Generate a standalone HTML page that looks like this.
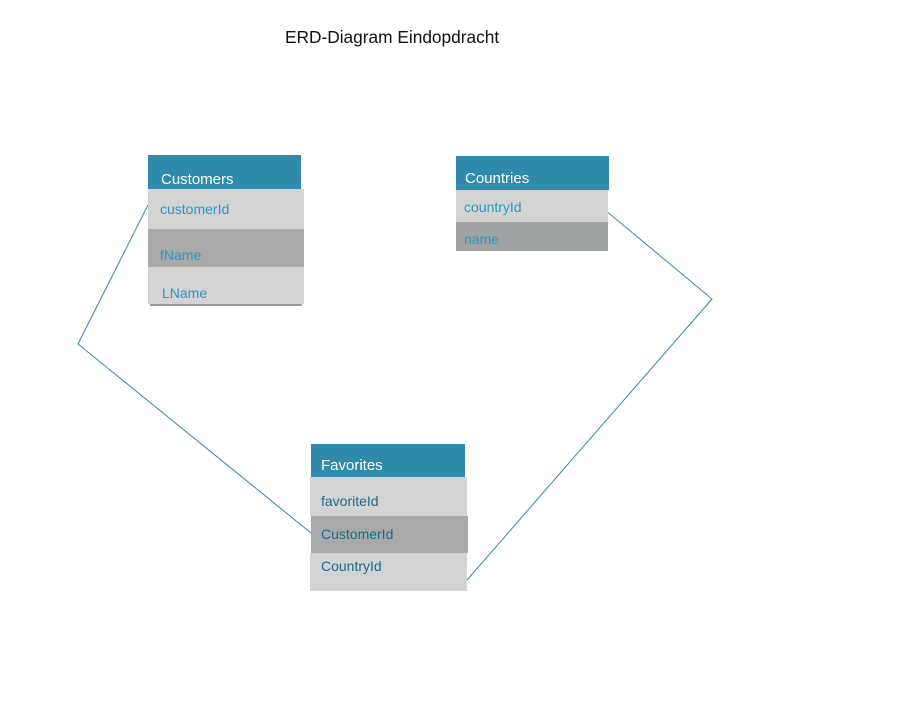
<!DOCTYPE html>
<html><head><meta charset="utf-8"><style>
body{margin:0;width:912px;height:712px;background:#fff;position:relative;overflow:hidden;font-family:"Liberation Sans","DejaVu Sans",sans-serif}
.b{position:absolute}
.h{background:#308aab;color:#fff;font-size:15px}
.l{background:#d3d3d3}
.d{background:#a9a9a9}
.t{position:absolute;font-size:14px}
</style></head><body>
<div class="t" style="left:285px;top:27px;font-size:17.3px;color:#111">ERD-Diagram Eindopdracht</div>
<svg class="b" style="left:0;top:0" width="912" height="712">
<polyline points="148,205 78,344 311,533" fill="none" stroke="#3a86a8" stroke-width="1"/>
<polyline points="605,210 712,299 467,580" fill="none" stroke="#3a86a8" stroke-width="1"/>
</svg>
<div class="b" style="left:150px;top:303px;width:152px;height:3px;background:#999"></div>
<div class="b h" style="left:148px;top:155px;width:153px;height:34px"></div>
<div class="t" style="left:161px;top:171px;color:#fff;font-size:15px">Customers</div>
<div class="b l" style="left:148px;top:189px;width:156px;height:40px"></div>
<div class="b d" style="left:148px;top:229px;width:156px;height:38px"></div>
<div class="b l" style="left:148px;top:267px;width:156px;height:37px"></div>
<div class="t" style="left:160px;top:201px;color:#1e9ccc">customerId</div>
<div class="t" style="left:160px;top:247px;color:#1e9ccc">fName</div>
<div class="t" style="left:162px;top:285px;color:#1e9ccc">LName</div>
<div class="b h" style="left:456px;top:156px;width:153px;height:34px"></div>
<div class="t" style="left:465px;top:170px;color:#fff;font-size:15px">Countries</div>
<div class="b l" style="left:456px;top:190px;width:152px;height:32px"></div>
<div class="b" style="left:456px;top:222px;width:152px;height:29px;background:#a0a3a4"></div>
<div class="t" style="left:464px;top:199px;color:#1e9ccc">countryId</div>
<div class="t" style="left:464px;top:231px;color:#1e9ccc">name</div>
<div class="b h" style="left:311px;top:444px;width:154px;height:33px"></div>
<div class="t" style="left:321px;top:457px;color:#fff;font-size:15px">Favorites</div>
<div class="b l" style="left:310px;top:477px;width:157px;height:39px"></div>
<div class="b d" style="left:311px;top:516px;width:157px;height:37px"></div>
<div class="b l" style="left:310px;top:553px;width:157px;height:38px"></div>
<div class="t" style="left:321px;top:493px;color:#1d6a8a">favoriteId</div>
<div class="t" style="left:321px;top:526px;color:#1d6a8a">CustomerId</div>
<div class="t" style="left:321px;top:558px;color:#1d6a8a">CountryId</div>
</body></html>
